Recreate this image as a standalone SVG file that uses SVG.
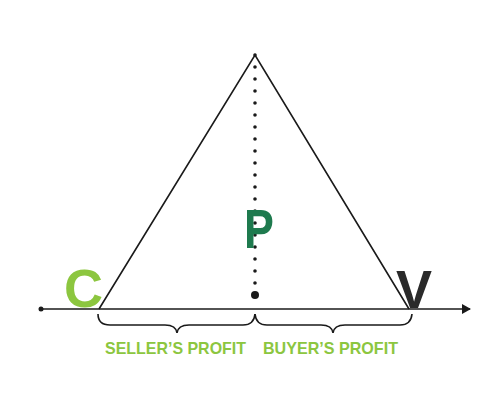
<svg xmlns="http://www.w3.org/2000/svg" width="501" height="400" viewBox="0 0 501 400">
<defs>
<style>
.ln{stroke:#1a1a1a;stroke-width:1.6;fill:none}
.big{font-family:"Liberation Sans",Arial,sans-serif;font-weight:bold}
.lbl{font-family:"Liberation Sans",Arial,sans-serif;font-weight:bold;font-size:17px;fill:#8cc63f}
</style>
<marker id="arr" markerWidth="10" markerHeight="10" refX="8" refY="5" orient="auto" markerUnits="userSpaceOnUse">
<path d="M0,0 L9,5 L0,10 Z" fill="#1a1a1a"/>
</marker>
</defs>
<rect width="501" height="400" fill="#fff"/>
<g id="connectors">
<line class="ln" x1="41" y1="309" x2="470" y2="309" marker-end="url(#arr)"/>
<circle cx="41" cy="309" r="2.5" fill="#1a1a1a"/>
<path class="ln" d="M99,309 L255,55 L409,309"/>
<line x1="255" y1="55" x2="255" y2="284" stroke="#1a1a1a" stroke-width="3.6" stroke-linecap="round" stroke-dasharray="0 12"/>
<circle cx="255" cy="295" r="4" fill="#1a1a1a"/>
<path class="ln" d="M98,314 Q98,325 110,325 L165,325 Q176,325 177,333 Q178,325 189,325 L243,325 Q254,325 255,314"/>
<path class="ln" d="M255,314 Q256,325 267,325 L321,325 Q332,325 333,333 Q334,325 345,325 L400,325 Q411,325 412,314"/>
</g>
<g id="nodeC"><text class="big" x="64" y="307" font-size="54" fill="#8cc63f">C</text></g>
<g id="nodeP"><text class="big" transform="translate(244,248) scale(0.8,1)" font-size="56" fill="#1e7a4e">P</text></g>
<g id="nodeV"><text class="big" x="396" y="308" font-size="54" fill="#2a2a2a">V</text></g>
<g id="labels">
<text class="lbl" x="105" y="354" textLength="141" lengthAdjust="spacingAndGlyphs">SELLER’S PROFIT</text>
<text class="lbl" x="263" y="354" textLength="135" lengthAdjust="spacingAndGlyphs">BUYER’S PROFIT</text>
</g>
</svg>
